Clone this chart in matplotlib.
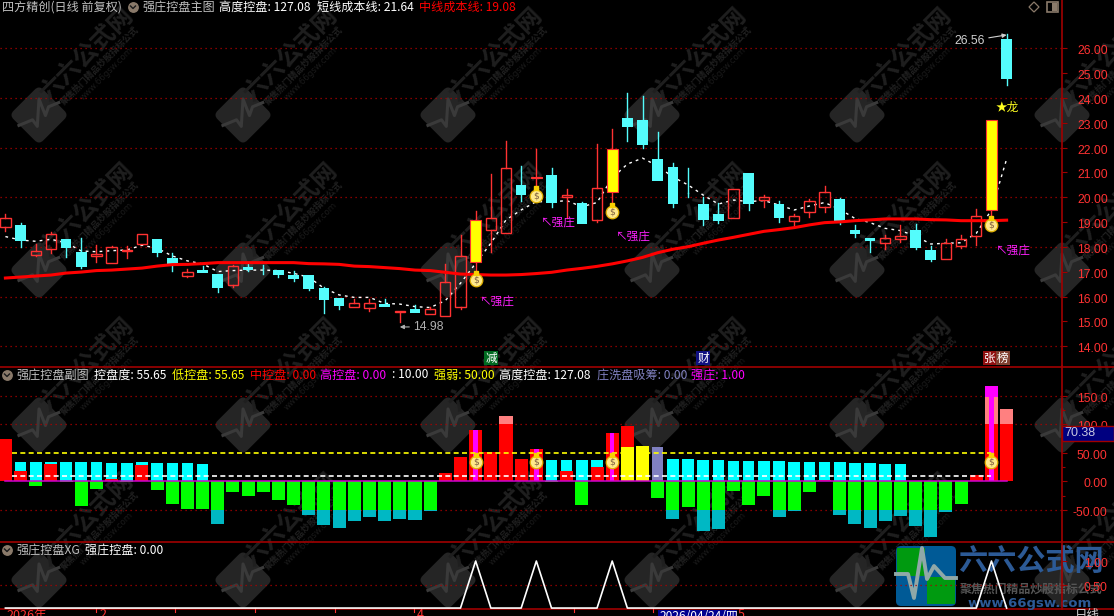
from matplotlib.patches import FancyBboxPatch, Rectangle, Polygon
from matplotlib.transforms import Affine2D, offset_copy
import matplotlib
import matplotlib.pyplot as plt
import numpy as np
matplotlib.use('agg')

plt.rcParams['font.family'] = ['Noto Sans CJK SC', 'DejaVu Sans']
plt.rcParams['axes.unicode_minus'] = False

# candles: r = red hollow, c = cyan filled, y = yellow
body_top = [19.15, 18.89, 17.83, 18.51, 18.32, 17.80, 17.72, 17.99, 17.88, 18.51, 18.32, 17.56, 16.98, 17.07,
            16.91, 17.22, 17.18, 17.17, 17.07, 16.87, 16.87, 16.35, 15.95, 15.73, 15.73, 15.70, 15.44, 15.49,
            15.49, 16.58, 17.62, 19.09, 19.15, 21.18, 20.50, 20.82, 20.90, 20.09, 19.79, 20.36, 21.95, 23.19,
            23.11, 21.54, 21.22, 20.19, 19.73, 19.33, 20.32, 20.98, 20.00, 19.73, 19.23, 19.87, 20.20, 19.93,
            18.68, 18.35, 18.35, 18.43, 18.68, 17.88, 18.15, 18.31, 19.23, 23.11, 26.38]
body_bot = [18.82, 18.24, 17.69, 17.91, 17.97, 17.19, 17.65, 17.37, 17.83, 18.13, 17.77, 17.30, 16.85, 16.97,
            16.36, 16.48, 17.07, 17.14, 16.89, 16.72, 16.31, 15.88, 15.64, 15.60, 15.56, 15.60, 15.40, 15.34,
            15.32, 15.21, 15.60, 17.41, 18.70, 18.55, 20.09, 20.78, 19.76, 20.00, 18.94, 19.10, 20.23, 22.83,
            22.11, 20.67, 19.73, 20.16, 19.09, 19.06, 19.15, 19.73, 19.89, 19.18, 19.06, 19.40, 19.62, 18.95,
            18.54, 18.26, 18.17, 18.34, 17.96, 17.48, 17.53, 18.05, 18.46, 19.49, 24.77]
high = [19.33, 18.95, 18.12, 18.60, 18.32, 18.36, 18.07, 18.04, 18.04, 18.51, 18.32, 17.74, 17.10, 17.23,
        16.91, 17.26, 17.32, 17.26, 17.07, 17.02, 16.87, 16.40, 15.95, 15.89, 15.92, 15.89, 15.44, 15.65,
        15.60, 17.32, 18.48, 19.44, 20.94, 22.27, 21.26, 21.95, 21.18, 20.34, 19.83, 22.15, 22.75, 24.20,
        24.08, 22.63, 21.38, 21.18, 20.00, 19.76, 20.32, 20.98, 20.09, 19.85, 19.33, 19.92, 20.46, 19.97,
        18.87, 18.35, 18.48, 18.89, 18.93, 18.05, 18.31, 18.48, 19.52, 23.11, 26.56]
low = [18.66, 18.01, 17.64, 17.77, 17.61, 17.15, 17.40, 17.34, 17.56, 18.13, 17.64, 17.05, 16.81, 16.97,
       16.20, 16.40, 17.05, 16.93, 16.81, 16.64, 16.28, 15.36, 15.52, 15.60, 15.44, 15.57, 14.98, 15.33,
       15.32, 15.21, 15.50, 16.94, 17.81, 18.55, 19.87, 20.43, 19.62, 19.15, 18.91, 19.02, 19.76, 22.27,
       21.99, 20.67, 19.62, 20.00, 18.90, 18.98, 19.15, 19.49, 19.62, 19.02, 18.82, 19.22, 19.42, 18.93,
       18.42, 17.81, 17.91, 18.20, 17.93, 17.44, 17.50, 17.96, 18.08, 18.95, 24.51]
kinds = list('rcrrccrrrrccrc' 'cr' 'ccccccc' 'rr' 'c' 'r' 'c' 'rrr' 'y' 'rr' 'c' 'y' 'c' 'r' 'c' 'r' 'y'
             'ccccccc' 'r' 'c' 'r' 'c' 'rrr' 'ccc' 'rr' 'cc' 'rrr' 'y' 'c')

short_ma = [18.42, 18.28, 18.23, 18.31, 18.17, 17.84, 17.81, 17.85, 17.88, 18.07, 17.95, 17.64, 17.44, 17.32,
            17.01, 17.05, 17.07, 17.07, 17.05, 16.94, 16.78, 16.34, 16.07, 15.97, 15.97, 15.73, 15.70, 15.60,
            15.56, 15.84, 16.54, 17.34, 18.15, 19.09, 19.49, 19.83, 19.81, 19.87, 19.62, 19.79, 20.78, 21.34,
            21.58, 21.26, 20.82, 20.50, 20.09, 19.73, 19.89, 19.83, 19.87, 19.69, 19.49, 19.65, 19.79, 19.52,
            19.15, 18.98, 18.75, 18.66, 18.44, 18.12, 18.15, 18.17, 18.55, 19.49, 21.54]
mid_ma = [16.75, 16.79, 16.83, 16.87, 16.95, 16.99, 17.05, 17.07, 17.11, 17.15, 17.23, 17.29, 17.30, 17.33,
          17.37, 17.37, 17.37, 17.37, 17.37, 17.37, 17.33, 17.32, 17.30, 17.23, 17.21, 17.17, 17.13, 17.07,
          17.05, 16.98, 16.91, 16.89, 16.87, 16.87, 16.89, 16.93, 16.98, 17.07, 17.14, 17.22, 17.32, 17.44,
          17.58, 17.77, 17.91, 18.01, 18.15, 18.28, 18.39, 18.51, 18.63, 18.70, 18.78, 18.89, 18.98, 19.01,
          19.06, 19.09, 19.13, 19.13, 19.13, 19.10, 19.09, 19.06, 19.06, 19.06, 19.08]

# sub pane
cyan_vals = [0, 34, 34, 34, 34, 34, 34, 32, 32, 34, 32, 32, 32, 30, 0, 0, 0, 0, 0, 0, 0, 0, 0, 0, 0, 0, 0, 0, 0,
             0, 0, 0, 0, 0, 0, 0, 37, 37, 37, 37, 0, 0, 0, 0, 39, 39, 37, 37, 36, 36, 36, 36, 34, 34, 34, 34, 32,
             32, 30, 30, 0, 0, 0, 0, 0, 0, 0]
red_vals = [74, 18, 0, 30, 0, 0, 0, 4, 0, 29, 0, 0, 0, 0, 0, 0, 0, 0, 0, 0, 0, 0, 0, 0, 0, 0, 0, 0, 0,
            15, 43, 90, 51, 115, 39, 57, 0, 18, 0, 25, 85, 97, 0, 0, 0, 0, 0, 0, 0, 0, 0, 0, 0, 0, 2, 0, 0,
            0, 0, 0, 0, 0, 0, 0, 11, 148, 127]
neg_vals = [0, 0, -8, 0, -2, -43, -13, 0, -2, 0, -15, -40, -49, -49, -75, -19, -26, -19, -33, -42, -59, -77, -82,
            -70, -63, -70, -66, -68, -52, 0, 0, 0, 0, 0, 0, 0, -2, 0, -41, 0, 0, 0, 0, -29, -66, -45, -87, -84,
            -17, -41, -26, -63, -52, -19, 0, -59, -75, -82, -70, -61, -78, -98, -54, -40, 0, 0, 0]
yellow_idx = [41, 42]
yellow_vals = [60, 62]
slate_idx = [43]
slate_vals = [60]
strong_idx = [31, 35, 40, 65]
strong_tops = [90, 57, 85, 148]
strong_cap = 167
bag_prices = [16.67, 20.07, 19.42, 18.89]
bag_sub = 34
strong_label_prices = [15.78, 18.97, 18.40, 17.84]

price_ticks = [14, 15, 16, 17, 18, 19, 20, 21, 22, 23, 24, 25, 26]
sub_ticks = [150, 100, 50, 0, -50]
sub_tick_labels = ['150.0', '100.0', '50.00', '0.00', '-50.00']

W, H = 1114, 616
RIGHT = 1062
X0, DX = 5.4, 15.17
RED = '#ff3232'
CYAN = '#54fcfc'
DARK_RED = '#a00000'
GRID = '#b00000'
NUM_FONT = ['Liberation Sans', 'DejaVu Sans']


def pane(fig, top, bottom, ylim):
    ax = fig.add_axes([0, 1 - bottom / H, RIGHT / W, (bottom - top) / H])
    ax.set_facecolor('none')
    ax.set_xlim(-X0 / DX, (RIGHT - X0) / DX)
    ax.set_ylim(*ylim)
    ax.set_xticks([])
    for s in ['left', 'top', 'bottom']:
        ax.spines[s].set_visible(False)
    ax.spines['right'].set_color(DARK_RED)
    ax.spines['right'].set_linewidth(1.2)
    ax.yaxis.tick_right()
    ax.tick_params(axis='y', length=3.6, width=0.8, color=DARK_RED, pad=29.3, labelsize=8.8, labelcolor=RED)
    ax.tick_params(axis='y', which='minor', length=2.2, width=0.8, color=DARK_RED)
    return ax


def set_labels(ax, ticks, labels):
    ax.set_yticks(ticks)
    ax.set_yticklabels(labels, family=NUM_FONT, ha='right')
    for lbl in ax.get_yticklabels():
        lbl.set_transform(lbl.get_transform() + Affine2D().translate(0, -1.5))


def grid(ax, values):
    for v in values:
        ax.axhline(v, color=GRID, lw=0.9, ls=(0, (1, 3)), zorder=1)


def draw_bag(ax, x, y):
    tr = offset_copy(ax.transData, fig=ax.figure, y=5.2, units='points')
    ax.scatter([x], [y], s=82, color='#ffe98a', edgecolor='#e0b000', lw=0.9, zorder=6)
    ax.plot([x], [y], marker='s', ms=3.4, color='#f8d000', transform=tr, zorder=6)
    ax.text(x, y, '$', color='#806040', fontsize=6.5, ha='center', va='center', family='DejaVu Sans', zorder=7)


def head_icon(ov, x, y):
    ov.scatter([x], [y], s=46, color='#8a7a6a', zorder=5)
    ov.plot([x - 2.5, x, x + 2.5], [y - 1, y + 1.5, y - 1], color='#1a1a1a', lw=1, zorder=6)


def watermark(bg, cx, cy):
    box = FancyBboxPatch((cx - 15, cy - 15), 30, 30, boxstyle='round,pad=6,rounding_size=6', fc='#252525', ec='none',
                         transform=Affine2D().rotate_deg_around(cx, cy, 45) + bg.transData)
    bg.add_patch(box)
    zig = np.array([[-24, 2], [-8, 2], [-4, 10], [3, -15], [7, 3], [12, -4], [24, -4]])
    zx = cx + (zig[:, 0] + zig[:, 1] * 0.2) * 0.85
    zy = cy + zig[:, 1] * 1.0 - zig[:, 0] * 0.35
    bg.plot(zx, zy, color='#3a3a3a', lw=2.2)
    # rotated text, y axis of bg is inverted so rotation stays screen based
    bg.text(cx + 48, cy - 60, '六六公式网', color='#1f1f1f', fontsize=17.5, fontweight='bold', rotation=45,
            ha='center', va='center')
    bg.text(cx + 61, cy - 49, '聚焦热门精品炒股指标公式', color='#202020', fontsize=6.4, fontweight='bold', rotation=45,
            ha='center', va='center')
    bg.text(cx + 68, cy - 41, 'www.66gsw.com', color='#1a1a1a', fontsize=6.2, rotation=45,
            ha='center', va='center', family='DejaVu Sans')


fig = plt.figure(figsize=(W / 100, H / 100), dpi=100, facecolor='black')

# background layer with the site watermark
bg = fig.add_axes([0, 0, 1, 1], zorder=0)
bg.set_xlim(0, W)
bg.set_ylim(H, 0)
bg.axis('off')
bg.set_facecolor('black')
for cy in [115, 270, 425, 580]:
    for cx in [39, 243, 448, 652, 857, 1062]:
        watermark(bg, cx, cy)

idx = np.arange(len(body_top))

# main pane
ax = pane(fig, 0, 366, (13.207, 27.947))
ax.set_zorder(1)
grid(ax, [14, 16, 18, 20, 22, 24, 26])
set_labels(ax, price_ticks, ['%.2f' % v for v in price_ticks])
ax.plot(idx, mid_ma, color='#ff0000', lw=2.2, zorder=4)
ax.plot(idx, short_ma, color='white', lw=1, ls=(0, (2, 3)), zorder=2)
for i in idx:
    k = kinds[i]
    wick = CYAN if k == 'c' else RED
    ax.plot([i, i], [body_top[i], high[i]], color=wick, lw=1, zorder=3)
    ax.plot([i, i], [low[i], body_bot[i]], color=wick, lw=1, zorder=3)
    h = body_top[i] - body_bot[i]
    if k == 'c':
        ax.bar(i, h, 0.7, bottom=body_bot[i], color=CYAN, zorder=3)
    elif k == 'y':
        ax.bar(i, h, 0.7, bottom=body_bot[i], color='#ffff00', edgecolor=RED, lw=0.8, zorder=3)
    else:
        ax.bar(i, h, 0.68, bottom=body_bot[i], facecolor='none', edgecolor=RED, lw=1, zorder=3)
for i, p, lp in zip(strong_idx, bag_prices, strong_label_prices):
    draw_bag(ax, i, p)
    ax.text(i + 0.28, lp, '↖强庄', color='#ff20ff', fontsize=8.4, ha='left', va='center', zorder=7)

# low / high value labels
low_i = int(np.argmin(low))
high_i = int(np.argmax(high))
ax.annotate('%.2f' % low[low_i], xy=(low_i, low[low_i] - 0.2), xytext=(low_i + 0.9, low[low_i] - 0.2),
            color='#b0b0b0', fontsize=8.8, family=NUM_FONT, va='center',
            arrowprops=dict(arrowstyle='-|>', color='#b0b0b0', lw=0.8, mutation_scale=6, shrinkA=1, shrinkB=0))
ax.annotate('%.2f' % high[high_i], xy=(high_i, high[high_i] - 0.02), xytext=(high_i - 3.45, high[high_i] - 0.26),
            color='#d0d0d0', fontsize=8.8, family=NUM_FONT, va='center',
            arrowprops=dict(arrowstyle='-|>', color='#d0d0d0', lw=0.8, mutation_scale=6, shrinkA=1, shrinkB=0))
ax.text(65.25, 23.64, '★龙', color='#ffff20', fontsize=8.4, ha='left', va='center', zorder=7)

# sub pane
ax2 = pane(fig, 366, 541, (-104.7, 202.3))
ax2.set_zorder(2)
grid(ax2, [150, 100, -50])
set_labels(ax2, sub_ticks, sub_tick_labels)
ax2.set_yticks([125, 75, 25, -25], minor=True)
ax2.bar(idx, cyan_vals, 0.76, color='#00ffff', zorder=3)
neg = np.array(neg_vals)
ax2.bar(idx, neg, 0.86, color='#00b8c4', zorder=3)
ax2.bar(idx, np.maximum(neg, -50), 0.86, color='#00ff00', zorder=3)
rv = np.array(red_vals)
ax2.bar(idx, rv, 0.86, color='#ff8080', zorder=3)
ax2.bar(idx, np.minimum(rv, 100), 0.86, color='#ff0000', zorder=3)
ax2.bar(yellow_idx, yellow_vals, 0.86, color='#ffff00', zorder=4)
ax2.bar(slate_idx, slate_vals, 0.76, color='#8080c0', zorder=4)
ax2.bar(strong_idx, strong_tops, 0.3, color='#ff00ff', zorder=4)
ax2.bar(strong_idx[-1], strong_cap - strong_tops[-1], 0.86, bottom=strong_tops[-1], color='#ff00ff', zorder=4)
ax2.plot([0, len(idx) - 1], [0, 0], color='#d000d0', lw=1.1, zorder=5)
ax2.plot([0.45, 65], [50, 50], color='#ffff00', lw=1.2, ls=(0, (3, 2)), zorder=5)
ax2.plot([0.45, 65], [10, 10], color='white', lw=1.2, ls=(0, (3, 2)), zorder=5)
for i in strong_idx:
    draw_bag(ax2, i, bag_sub)

# xg pane, above the overlay so its labels sit on the logo
xg_vals = np.zeros(len(idx))
xg_vals[strong_idx] = 1
ax3 = pane(fig, 541, 609, (-0.02, 1.4255))
ax3.set_zorder(6)
grid(ax3, [0.5])
set_labels(ax3, [0.5, 1], ['0.50', '1.00'])
ax3.plot(idx, xg_vals, color='white', lw=1.2, zorder=4, clip_on=False)

# overlay: headers, separators, date row, logo
ov = fig.add_axes([0, 0, 1, 1], zorder=5)
ov.set_xlim(0, W)
ov.set_ylim(H, 0)
ov.axis('off')
ov.set_facecolor('none')
for y in [366.5, 541.5, 608.5]:
    ov.plot([0, W], [y, y], color=DARK_RED, lw=1.2)


def head(x, y, s, color, **kw):
    ov.text(x, y, s, color=color, fontsize=8.7, ha='left', va='center', **kw)


head(2, 7, '四方精创(日线 前复权)', '#c0c0c0')
head_icon(ov, 133, 7)
head(142, 7, '强庄控盘主图', '#c0c0c0')
head(219, 7, '高度控盘: 127.08', 'white')
head(317, 7, '短线成本线: 21.64', 'white')
head(419, 7, '中线成本线: 19.08', '#ff0000')

head_icon(ov, 7, 375)
head(16, 375, '强庄控盘副图', '#c0c0c0')
head(94, 375, '控盘度: 55.65', 'white')
head(172, 375, '低控盘: 55.65', '#ffff00')
head(250, 375, '中控盘: 0.00', '#ff0000')
head(320, 375, '高控盘: 0.00', '#ff00ff')
head(392, 375, ': 10.00', 'white')
head(434, 375, '强弱: 50.00', '#ffff00')
head(499, 375, '高度控盘: 127.08', 'white')
head(597, 375, '庄洗盘吸筹: 0.00', '#8080c0')
head(691, 375, '强庄: 1.00', '#ff00ff')

head_icon(ov, 7, 550)
head(16, 550, '强庄控盘XG', '#c0c0c0')
head(85, 550, '强庄控盘: 0.00', 'white')


def mark(x, y, s, bgcolor):
    ov.text(x, y, s, color='white', fontsize=8.4, ha='center', va='center',
            bbox=dict(boxstyle='square,pad=0.08', fc=bgcolor, ec='none'))


mark(491, 358, '减', '#006a20')
mark(703, 358, '财', '#101080')
mark(990, 358, '张', '#901010')
mark(1003, 358, '榜', '#804030')

# top right icons
ov.add_patch(Polygon([[1034, 2], [1039, 7], [1034, 12], [1029, 7]], fill=False, ec='#8a7a6a', lw=0.9))
ov.add_patch(Rectangle((1047, 2), 11, 10, fill=False, ec='#8a7a6a', lw=1.2))
ov.add_patch(Rectangle((1052, 3), 5, 8, fc='#8a7a6a', ec='none'))

# current value box
ov.add_patch(Rectangle((1062, 425.5), 52, 15.5, fc='#000080', ec=DARK_RED, lw=1, zorder=8))
ov.text(1064, 433.5, '70.38', color='#c8c8e0', fontsize=9, family=NUM_FONT, ha='left', va='center', zorder=9)

# date row
for x in [96, 175, 255, 335, 414, 574, 653]:
    ov.plot([x, x], [608, 612], color=RED, lw=0.8)
ov.text(6, 615, '2026年', color=RED, fontsize=9, va='center')
ov.text(99, 615, '2', color=RED, fontsize=9, va='center')
ov.text(417, 615, '4', color=RED, fontsize=9, va='center')
ov.add_patch(Rectangle((658, 610), 79, 8, fc='#000090', ec='none'))
ov.text(660, 616, '2026/04/24/四', color='white', fontsize=8.6, va='center')
ov.text(738, 615, '5', color=RED, fontsize=9, va='center')
ov.text(1075, 615, '日线', color='#d0d0d0', fontsize=9, va='center')

# site logo, bottom right
ov.add_patch(FancyBboxPatch((899, 549), 54, 54, boxstyle='round,pad=3,rounding_size=5', fc='#005a96', ec='none', zorder=10))
ov.add_patch(Rectangle((897, 548), 28, 28, fc='#009a10', ec='none', zorder=10))
ov.add_patch(Rectangle((927, 577), 28, 27, fc='#009a10', ec='none', zorder=10))
ov.plot([896, 908, 914, 922, 927, 934, 945, 956], [574, 574, 598, 548, 579, 566, 578, 578],
        color='#90a8a8', lw=2.8, zorder=11)
ov.text(1031, 561, '六六公式网', color='#2c5a96', fontsize=21, fontweight='bold', ha='center', va='center', zorder=12)
ov.text(1031, 589, '聚焦热门精品炒股指标公式', color='#555555', fontsize=8.6, fontweight='bold', ha='center', va='center', zorder=12)
ov.text(1030, 603, 'www.66gsw.com', color='#2c5a96', fontsize=9.5, fontweight='bold', family='DejaVu Sans',
        ha='center', va='center', zorder=12)

fig.savefig('out.png', dpi=100, facecolor='black')
